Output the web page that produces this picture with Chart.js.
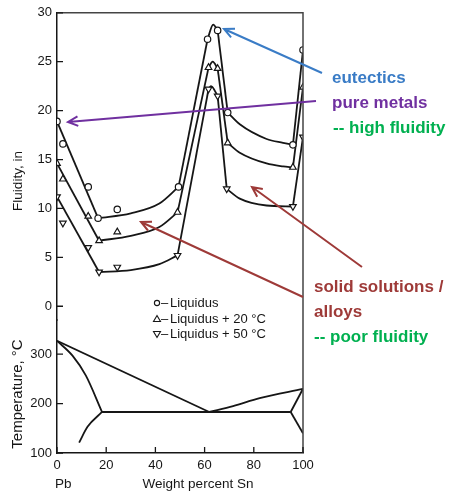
<!DOCTYPE html>
<html>
<head>
<meta charset="utf-8">
<script src="https://cdn.jsdelivr.net/npm/chart.js@4.4.1/dist/chart.umd.min.js"></script>
<style>
html, body { margin: 0; padding: 0; background: #fff; }
</style>
</head>
<body>
<canvas id="fluidityChart" width="449" height="492"></canvas>
<script>
// Ticks
const xTicks = [0, 20, 40, 60, 80, 100];
const fluidTicks = [0, 5, 10, 15, 20, 25, 30];
const tempTicks = [100, 200, 300];

// Measured points (weight % Sn, fluidity in)
const liqX = [0, 2.4, 12.7, 16.7, 24.5, 49.4, 61.2, 65.3, 69.4, 95.9, 100];
const liqY = [18.9, 16.6, 12.2, 9.0, 9.9, 12.2, 27.3, 28.2, 19.8, 16.5, 26.2];
const liq20X = [0, 2.4, 12.7, 17.1, 24.5, 49, 61.6, 65.3, 69.4, 95.9, 100];
const liq20Y = [14.6, 13.0, 9.2, 6.7, 7.6, 9.6, 24.4, 24.3, 16.7, 14.2, 22.4];
const liq50X = [0, 2.4, 12.7, 17.1, 24.5, 49, 61.6, 65.3, 69, 95.9, 100];
const liq50Y = [11.2, 8.5, 6.0, 3.5, 4.0, 5.2, 22.2, 21.5, 12.0, 10.2, 17.3];

// Hand drawn curves, piece by piece (2 points = straight, more = smooth)
const liqLine = [
  [[0, 18.9], [16.7, 9.0]],
  [[16.7, 9.0], [30, 9.5], [41.6, 10.5], [49.4, 12.2]],
  [[49.4, 12.2], [61.2, 27.3]],
  [[61.2, 27.3], [63.5, 28.8], [65.3, 28.2]],
  [[65.3, 28.2], [69.4, 19.8]],
  [[69.4, 19.8], [74.3, 18.6], [85.2, 17.1], [91.9, 16.7], [95.9, 16.5]],
  [[95.9, 16.5], [100, 26.2]]
];
const liq20Line = [
  [[0, 14.6], [17.1, 6.7]],
  [[17.1, 6.7], [30, 7.2], [41.6, 8.1], [49, 9.6]],
  [[49, 9.6], [61.6, 24.4]],
  [[61.6, 24.4], [63.3, 25.0], [65.3, 24.3]],
  [[65.3, 24.3], [69.4, 16.7]],
  [[69.4, 16.7], [74.3, 15.7], [85.2, 14.6], [91.9, 14.3], [95.9, 14.2]],
  [[95.9, 14.2], [100, 22.4]]
];
const liq50Line = [
  [[0, 11.2], [17.1, 3.5]],
  [[17.1, 3.5], [30, 3.7], [41.6, 4.3], [49, 5.2]],
  [[49, 5.2], [61.6, 22.2]],
  [[61.6, 22.2], [62.6, 22.5], [65.3, 21.5]],
  [[65.3, 21.5], [69, 12.0]],
  [[69, 12.0], [74.3, 11.0], [85.2, 10.3], [95.9, 10.2]],
  [[95.9, 10.2], [100, 17.3]]
];

// Pb-Sn phase diagram (weight % Sn, temperature °C)
const phaseLines = [
  [[0, 327], [61.9, 183]],
  [[61.9, 183], [71.6, 195], [82.4, 211], [100, 230]],
  [[0, 327], [6.3, 297], [11.7, 257], [18.3, 183]],
  [[18.3, 183], [95, 183]],
  [[9, 121], [12.4, 153], [18.3, 183]],
  [[95, 183], [100, 230]],
  [[95, 183], [100, 140]]
];

const ink = '#161616';
const font = '"Liberation Sans", Arial, sans-serif';

function toXY(xs, ys) {
  return xs.map((x, i) => ({ x: x, y: ys[i] }));
}

function pieces(list, axis) {
  return list.map(p => ({
    type: 'line',
    data: p.map(q => ({ x: q[0], y: q[1] })),
    yAxisID: axis,
    borderColor: ink,
    borderWidth: 1.8,
    pointRadius: 0,
    fill: false,
    tension: p.length > 2 ? 0.4 : 0,
    cubicInterpolationMode: p.length > 2 ? 'monotone' : 'default',
    order: 2
  }));
}

function markers(xs, ys, style, rot) {
  return {
    type: 'scatter',
    data: toXY(xs, ys),
    yAxisID: 'yF',
    pointStyle: style,
    rotation: rot,
    pointRadius: style === 'circle' ? 3.2 : 3.8,
    pointBackgroundColor: '#fff',
    pointBorderColor: ink,
    pointBorderWidth: 1.2,
    order: 1
  };
}

const datasets = [].concat(
  pieces(liqLine, 'yF'),
  pieces(liq20Line, 'yF'),
  pieces(liq50Line, 'yF'),
  pieces(phaseLines, 'yT'),
  [markers(liqX, liqY, 'circle', 0),
   markers(liq20X, liq20Y, 'triangle', 0),
   markers(liq50X, liq50Y, 'triangle', 180)]
);

function arrow(ctx, x1, y1, x2, y2, color) {
  const a = Math.atan2(y2 - y1, x2 - x1);
  ctx.save();
  ctx.strokeStyle = color;
  ctx.lineWidth = 2;
  ctx.beginPath();
  ctx.moveTo(x1, y1);
  ctx.lineTo(x2, y2);
  ctx.moveTo(x2 - 11 * Math.cos(a - 0.45), y2 - 11 * Math.sin(a - 0.45));
  ctx.lineTo(x2, y2);
  ctx.lineTo(x2 - 11 * Math.cos(a + 0.45), y2 - 11 * Math.sin(a + 0.45));
  ctx.stroke();
  ctx.restore();
}

const decor = {
  id: 'decor',
  afterDraw(chart) {
    const ctx = chart.ctx;
    const area = chart.chartArea;
    const sx = chart.scales.x, sf = chart.scales.yF, st = chart.scales.yT;
    ctx.save();
    // frame top and right
    ctx.strokeStyle = '#444';
    ctx.lineWidth = 1.5;
    ctx.beginPath();
    ctx.moveTo(area.left, area.top);
    ctx.lineTo(area.right, area.top);
    ctx.lineTo(area.right, area.bottom);
    ctx.stroke();
    // inward ticks
    ctx.strokeStyle = ink;
    ctx.lineWidth = 1.3;
    ctx.beginPath();
    fluidTicks.forEach(v => { const y = sf.getPixelForValue(v); ctx.moveTo(area.left, y); ctx.lineTo(area.left + 6, y); });
    tempTicks.forEach(v => { const y = st.getPixelForValue(v); ctx.moveTo(area.left, y); ctx.lineTo(area.left + 6, y); });
    xTicks.forEach(v => { const x = sx.getPixelForValue(v); ctx.moveTo(x, area.bottom); ctx.lineTo(x, area.bottom - 6); });
    ctx.stroke();

    // axis titles
    ctx.fillStyle = ink;
    ctx.textBaseline = 'middle';
    ctx.textAlign = 'center';
    ctx.font = '13.5px ' + font;
    ctx.fillText('Weight percent Sn', 198, 484);
    ctx.textAlign = 'left';
    ctx.fillText('Pb', 55, 484);
    ctx.save();
    ctx.translate(18, 181);
    ctx.rotate(-Math.PI / 2);
    ctx.textAlign = 'center';
    ctx.font = '13.5px ' + font;
    ctx.fillText('Fluidity, in', 0, 0);
    ctx.restore();
    ctx.save();
    ctx.translate(18, 394);
    ctx.rotate(-Math.PI / 2);
    ctx.textAlign = 'center';
    ctx.font = '15px ' + font;
    ctx.fillText('Temperature, °C', 0, 0);
    ctx.restore();

    // in-plot key
    const keyRows = [303, 319, 334];
    ctx.lineWidth = 1.1;
    ctx.strokeStyle = ink;
    ctx.beginPath();
    ctx.arc(157, keyRows[0], 2.6, 0, Math.PI * 2);
    ctx.stroke();
    ctx.beginPath();
    ctx.moveTo(157, keyRows[1] - 3.5); ctx.lineTo(160.5, keyRows[1] + 2.5); ctx.lineTo(153.5, keyRows[1] + 2.5); ctx.closePath();
    ctx.stroke();
    ctx.beginPath();
    ctx.moveTo(157, keyRows[2] + 3.5); ctx.lineTo(160.5, keyRows[2] - 2.5); ctx.lineTo(153.5, keyRows[2] - 2.5); ctx.closePath();
    ctx.stroke();
    ctx.font = '13px ' + font;
    ctx.textAlign = 'left';
    const keyText = ['Liquidus', 'Liquidus + 20 °C', 'Liquidus + 50 °C'];
    keyText.forEach((t, i) => {
      ctx.fillText('–', 161, keyRows[i]);
      ctx.fillText(t, 170, keyRows[i]);
    });

    // annotations
    const blue = '#3a7cc6', purple = '#7030a0', green = '#00b050', red = '#9e3a38';
    arrow(ctx, 322, 73, 224, 29, blue);
    arrow(ctx, 316, 101, 68, 122, purple);
    arrow(ctx, 362, 267, 252, 187, red);
    arrow(ctx, 303, 297, 141, 222, red);
    ctx.font = 'bold 17px ' + font;
    ctx.fillStyle = blue; ctx.fillText('eutectics', 332, 78);
    ctx.fillStyle = purple; ctx.fillText('pure metals', 332, 103);
    ctx.fillStyle = green; ctx.fillText('-- high fluidity', 333, 128);
    ctx.fillStyle = red; ctx.fillText('solid solutions /', 314, 287);
    ctx.fillText('alloys', 314, 312);
    ctx.fillStyle = green; ctx.fillText('-- poor fluidity', 314, 337);
    ctx.restore();
  }
};

const tickFont = { family: font, size: 13 };

new Chart(document.getElementById('fluidityChart'), {
  data: { datasets: datasets },
  options: {
    responsive: false,
    animation: false,
    layout: { padding: { top: 12, right: 146, left: 0, bottom: 0 } },
    plugins: { legend: { display: false }, tooltip: { enabled: false } },
    scales: {
      x: {
        type: 'linear',
        min: 0, max: 100,
        grid: { drawOnChartArea: false, drawTicks: false },
        border: { color: ink, width: 1.5 },
        ticks: { font: tickFont, color: ink, padding: 5 },
        afterBuildTicks: s => { s.ticks = xTicks.map(v => ({ value: v })); },
        afterFit: s => { s.height = 39; }
      },
      yT: {
        type: 'linear',
        position: 'left',
        stack: 'panels',
        stackWeight: 133,
        min: 100, max: 368.7,
        grid: { drawOnChartArea: false, drawTicks: false },
        border: { color: ink, width: 1.5 },
        ticks: { font: tickFont, color: ink, padding: 5 },
        afterBuildTicks: s => { s.ticks = tempTicks.map(v => ({ value: v })); },
        afterFit: s => { s.width = 57; }
      },
      yF: {
        type: 'linear',
        position: 'left',
        stack: 'panels',
        stackWeight: 308,
        min: -1.43, max: 30,
        grid: { drawOnChartArea: false, drawTicks: false },
        border: { color: ink, width: 1.5 },
        ticks: { font: tickFont, color: ink, padding: 5 },
        afterBuildTicks: s => { s.ticks = fluidTicks.map(v => ({ value: v })); },
        afterFit: s => { s.width = 57; }
      }
    }
  },
  plugins: [decor]
});
</script>
</body>
</html>
